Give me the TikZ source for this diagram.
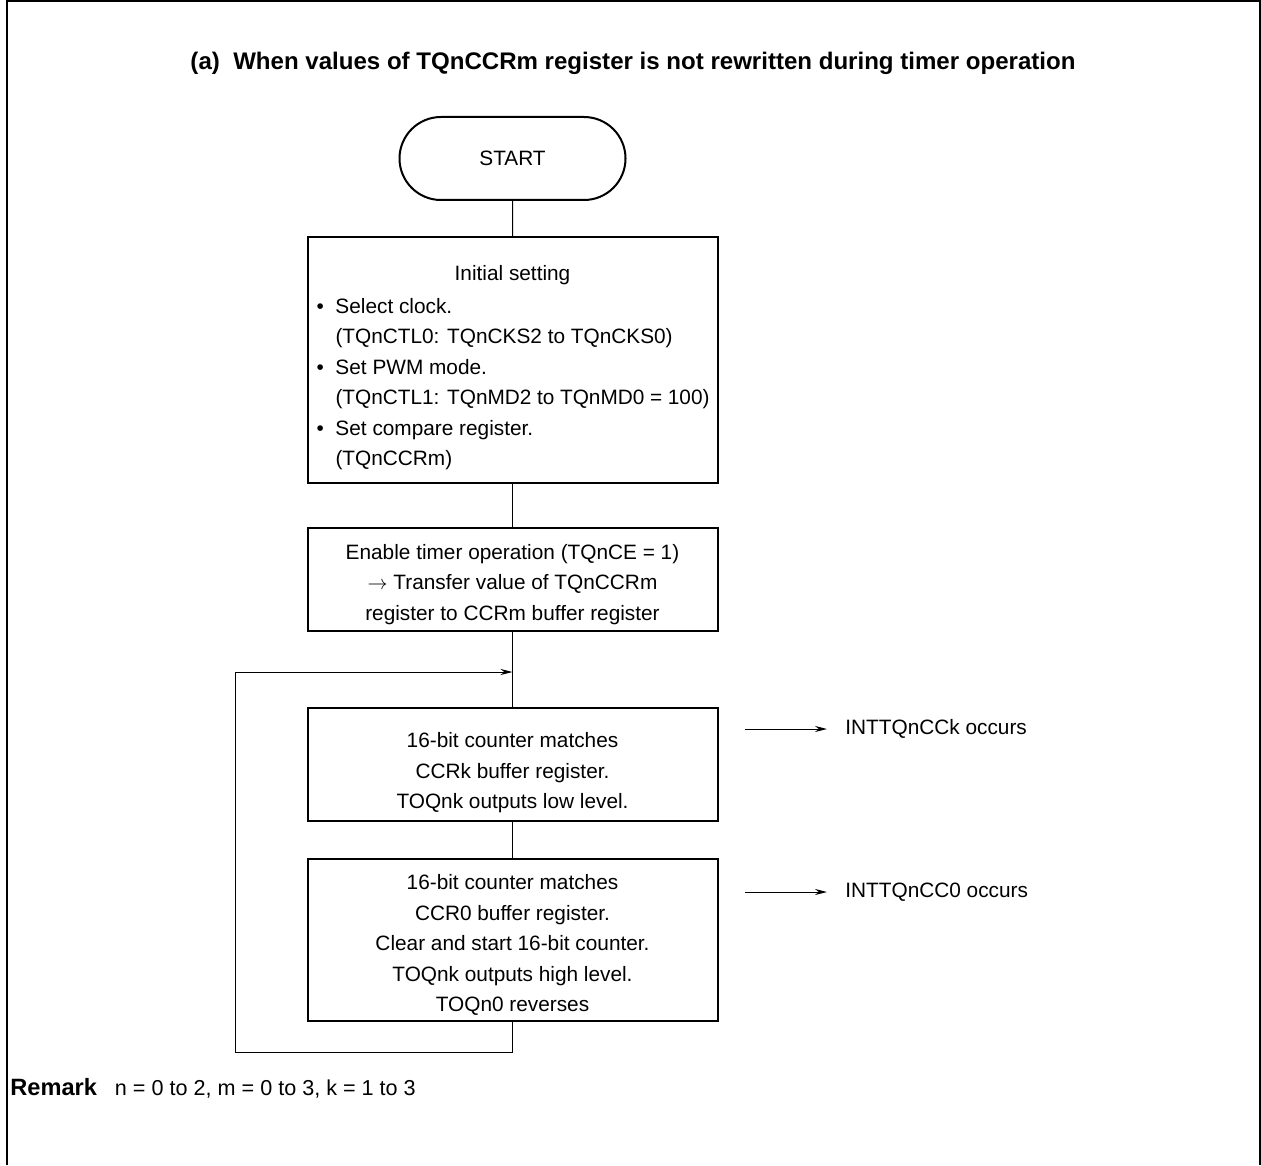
\documentclass[tikz,border=0pt]{standalone}
\usepackage{fontspec}
\setmainfont{Liberation Sans}
\usetikzlibrary{arrows.meta,shapes.misc}
\newcommand\bul{\makebox[10pt][l]{\hspace*{0.5pt}\textbullet}}
\newcommand\ind{\hspace*{10pt}}
\begin{document}
\begin{tikzpicture}[x=0.5pt,y=-0.5pt,
  txt/.style={font=\fontsize{10.4}{15.25}\selectfont, inner sep=0pt},
  box/.style={draw, line width=1pt, rectangle, minimum width=205pt, inner sep=0pt},
  btext/.style={txt, align=center},
  conn/.style={line width=0.5pt},
  arr/.style={line width=0.5pt, -{Stealth[length=6pt,width=3pt]}},
  side/.style={txt, anchor=west, inner xsep=9pt, inner ysep=0pt}
]
\useasboundingbox (0,0) rectangle (1261,1165);
\draw[line width=1pt] (6.5,1165) -- (6.5,1.5) -- (1259.5,1.5) -- (1259.5,1165);

\node[font=\bfseries\fontsize{12}{14}\selectfont] (title) at (633,63)
  {\resizebox{442.5pt}{\height}{(a)\ \ When values of TQnCCRm register is not rewritten during timer operation}};

\node[txt, draw, line width=1pt, rounded rectangle, minimum width=113pt, minimum height=41.5pt] (start) at (512.5,158.5) {START};

\node[box, minimum height=123pt] (b1) at (512.5,360) {};
\node[txt] (b1t) at (512.5,368) {\begin{minipage}{197pt}
{\centering Initial setting\par}\vspace{1pt}
\raggedright
\bul Select clock.\\
\ind(TQnCTL0: TQnCKS2 to TQnCKS0)\\
\bul Set PWM mode.\\
\ind(TQnCTL1: TQnMD2 to TQnMD0 = 100)\\
\bul Set compare register.\\
\ind(TQnCCRm)
\end{minipage}};

\node[box, minimum height=51.5pt] (b2) at (512.5,579.5) {};
\node[btext] (b2t) at (512.5,584.5)
  {Enable timer operation (TQnCE = 1)\\ $\rightarrow$ Transfer value of TQnCCRm\\ register to CCRm buffer register};

\node[box, minimum height=56.5pt] (b3) at (512.5,764.5) {};
\node[btext] (b3t) at (512.5,773)
  {16-bit counter matches\\ CCRk buffer register.\\ TOQnk outputs low level.};

\node[box, minimum height=81pt] (b4) at (512.5,940) {};
\node[btext] (b4t) at (512.5,945)
  {16-bit counter matches\\ CCR0 buffer register.\\ Clear and start 16-bit counter.\\ TOQnk outputs high level.\\ TOQn0 reverses};

\coordinate (j) at (512.5,672);
\coordinate (lb) at (235,1052);

\draw[conn] (start) -- (b1);
\draw[conn] (b1) -- (b2);
\draw[conn] (b2) -- (b3);
\draw[conn] (b3) -- (b4);
\draw[arr] (b4.south) |- (lb) |- (j);

\node[side] (t3) at (827,729) {INTTQnCCk occurs};
\coordinate (s3) at (745,729);
\draw[arr] (s3) -- (t3.west);

\node[side] (t4) at (827,892) {INTTQnCC0 occurs};
\coordinate (s4) at (745,892);
\draw[arr] (s4) -- (t4.west);

\node[anchor=west, inner sep=0pt, font=\fontsize{10.8}{13}\selectfont] (rem) at (10,1088)
  {{\fontsize{11.8}{13}\selectfont\bfseries Remark}\hspace{9pt}n = 0 to 2, m = 0 to 3, k = 1 to 3};
\end{tikzpicture}
\end{document}
